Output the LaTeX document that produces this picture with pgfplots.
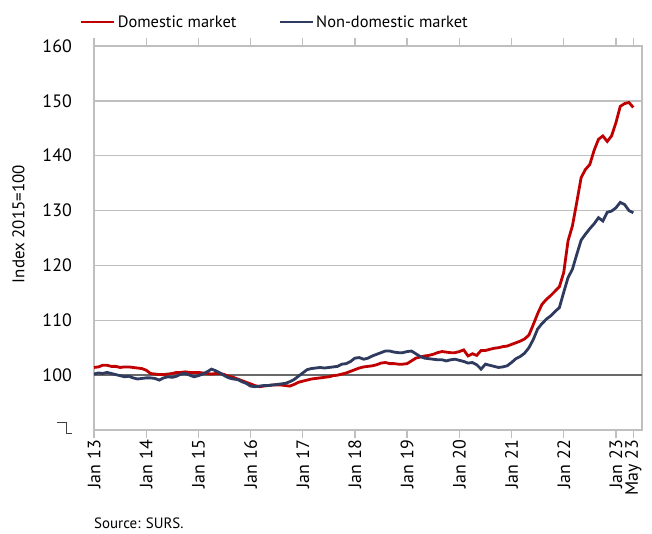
\documentclass[border=0pt]{standalone}
\usepackage{pgfplots}
\pgfplotsset{compat=1.18}
\usepackage{pgfplotstable}
\usepackage{fontspec}
\setmainfont{PT Sans}
\definecolor{dom}{RGB}{192,0,0}
\definecolor{nondom}{RGB}{46,58,94}
\definecolor{framec}{RGB}{191,191,191}
\definecolor{refc}{RGB}{105,105,105}

\pgfplotstableread{
x dom nondom
0 101.4 100.2
1 101.5 100.4
2 101.8 100.3
3 101.8 100.5
4 101.6 100.3
5 101.6 100.1
6 101.4 99.9
7 101.5 99.7
8 101.5 99.8
9 101.4 99.5
10 101.3 99.3
11 101.2 99.4
12 100.9 99.5
13 100.3 99.5
14 100.2 99.4
15 100.1 99.1
16 100.1 99.5
17 100.2 99.7
18 100.3 99.6
19 100.5 99.8
20 100.5 100.2
21 100.6 100.3
22 100.5 100.0
23 100.5 99.7
24 100.5 99.9
25 100.4 100.2
26 100.3 100.6
27 100.2 101.1
28 100.3 100.8
29 100.3 100.4
30 100.1 99.9
31 99.8 99.5
32 99.6 99.3
33 99.3 99.2
34 99.0 98.8
35 98.7 98.5
36 98.4 98.0
37 98.1 97.9
38 97.9 98.0
39 98.0 98.1
40 98.1 98.1
41 98.2 98.2
42 98.2 98.3
43 98.2 98.4
44 98.1 98.5
45 98.0 98.8
46 98.3 99.2
47 98.7 99.8
48 98.9 100.4
49 99.1 101.0
50 99.3 101.2
51 99.4 101.3
52 99.5 101.4
53 99.6 101.3
54 99.7 101.4
55 99.9 101.5
56 100.0 101.6
57 100.2 102.0
58 100.4 102.1
59 100.7 102.5
60 101.0 103.1
61 101.3 103.2
62 101.5 102.9
63 101.6 103.1
64 101.7 103.5
65 101.9 103.8
66 102.2 104.1
67 102.3 104.4
68 102.1 104.4
69 102.1 104.2
70 102.0 104.1
71 102.0 104.1
72 102.1 104.3
73 102.6 104.4
74 103.1 103.9
75 103.3 103.4
76 103.5 103.1
77 103.6 103.0
78 103.8 102.9
79 104.1 102.8
80 104.3 102.8
81 104.2 102.6
82 104.1 102.8
83 104.1 102.9
84 104.3 102.7
85 104.6 102.5
86 103.5 102.2
87 103.9 102.3
88 103.6 101.9
89 104.5 101.1
90 104.5 102.0
91 104.7 101.8
92 104.9 101.6
93 105.0 101.4
94 105.2 101.5
95 105.3 101.7
96 105.6 102.3
97 105.9 103.0
98 106.2 103.4
99 106.6 104.0
100 107.3 105.0
101 109.2 106.5
102 111.2 108.4
103 112.9 109.4
104 113.8 110.2
105 114.5 110.8
106 115.3 111.6
107 116.1 112.3
108 118.7 115.1
109 124.5 117.8
110 127.2 119.3
111 131.5 122.0
112 136.0 124.6
113 137.5 125.7
114 138.4 126.7
115 141.0 127.6
116 143.0 128.7
117 143.6 128.1
118 142.6 129.7
119 143.6 129.9
120 146.0 130.5
121 149.0 131.5
122 149.5 131.1
123 149.7 130.0
124 148.8 129.6
}\datatable

\begin{document}
\begin{tikzpicture}
\useasboundingbox (-94bp,-104bp) rectangle (558bp,430bp);
\begin{axis}[
  at={(0,0)}, anchor=south west,
  scale only axis, width=548bp, height=384bp,
  xmin=0, xmax=126, ymin=90, ymax=160,
  axis line style={framec, line width=1.3bp},
  xtick={0,12,24,36,48,60,72,84,96,108,120,124},
  xticklabels={Jan 13,Jan 14,Jan 15,Jan 16,Jan 17,Jan 18,Jan 19,Jan 20,Jan 21,Jan 22,Jan 23,May 23},
  xticklabel style={rotate=90, anchor=east, font=\fontsize{18}{20}\selectfont, inner sep=2bp},
  ytick={100,110,...,160},
  yticklabel style={font=\fontsize{18}{20}\selectfont, inner sep=2bp, xshift=-12bp},
  /pgf/number format/assume math mode=true,
  tick align=outside,
  x tick style={framec, line width=1.3bp},
  major tick length=8bp,
  y tick style={draw=none},
  ymajorgrids, grid style={framec, line width=1.3bp},
  ylabel={Index 2015=100},
  ylabel style={at={(axis description cs:-0.138,0.536)}, anchor=center, font=\fontsize{17}{19}\selectfont},
  legend columns=2,
  legend style={at={(axis description cs:0.33,1.0625)}, anchor=center, draw=none, fill=none,
    font=\fontsize{16.5}{19}\selectfont, /tikz/every even column/.append style={column sep=40bp},
    inner sep=0pt},
  legend image code/.code={\draw[#1] (0bp,0bp) -- (33bp,0bp);},
  legend cell align=left,
]
\addplot[refc, line width=2bp, forget plot] coordinates {(0,100) (126,100)};
\addplot[dom, line width=2.8bp] table[x=x, y=dom] {\datatable};
\addlegendentry{Domestic market}
\addplot[nondom, line width=2.8bp] table[x=x, y=nondom] {\datatable};
\addlegendentry{Non-domestic market}
\end{axis}
\draw[black!75, line width=1bp] (-37bp,7bp) -- (-27bp,7bp) -- (-27bp,-3bp) -- (-22bp,-3bp);
\node[anchor=west, font=\fontsize{15}{17}\selectfont, inner sep=0pt] at (0bp,-93bp) {Source: SURS.};
\end{tikzpicture}
\end{document}
